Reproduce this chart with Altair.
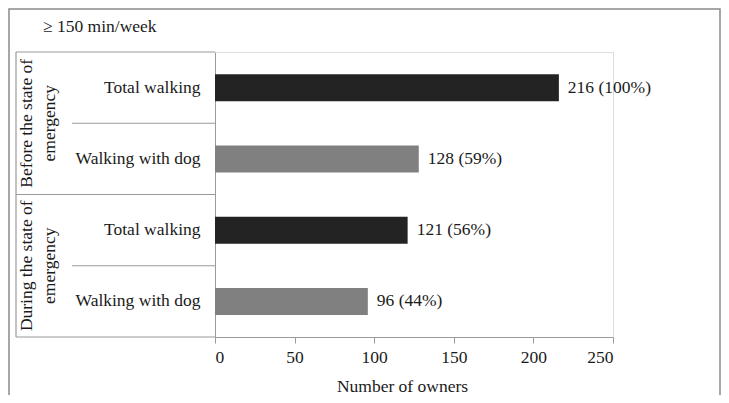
import altair as alt
import pandas as pd

# ---- data ----
groups = ["Before the state of emergency", "Before the state of emergency",
          "During the state of emergency", "During the state of emergency"]
sub_labels = ["Total walking", "Walking with dog", "Total walking", "Walking with dog"]
owners = [216, 128, 121, 96]
percents = [100, 59, 56, 44]
kinds = ["total", "dog", "total", "dog"]
x_ticks = [0, 50, 100, 150, 200, 250]
group_text = [["Before the state of", "emergency"], ["During the state of", "emergency"]]
chart_title = "≥ 150 min/week"

keys = [f"{g.split()[0]}|{s}" for g, s in zip(groups, sub_labels)]
df = pd.DataFrame({
    "key": keys,
    "owners": owners,
    "label": [f"{o} ({p}%)" for o, p in zip(owners, percents)],
    "kind": kinds,
})

W, H = 398, 285
FONT = "Liberation Serif"
FS = 17.5
LINE = "#9a9a9a"
TXT = "#1a1a1a"

yscale = alt.Scale(domain=keys, paddingInner=0, paddingOuter=0)
yaxis = alt.Axis(title=None, ticks=False, labelPadding=15, labelFontSize=FS,
                 labelFont=FONT, labelColor=TXT, domainColor=LINE,
                 labelExpr="split(datum.label, '|')[1]")
xscale = alt.Scale(domain=[0, 250], nice=False)
xaxis = alt.Axis(values=x_ticks, title="Number of owners", grid=False,
                 labelFont=FONT, labelFontSize=FS, labelColor=TXT,
                 titleFont=FONT, titleFontSize=FS, titleFontWeight="normal",
                 titleColor=TXT, domainColor=LINE, tickColor=LINE,
                 tickSize=6, labelPadding=5, titlePadding=12, titleX=187)

base = alt.Chart(df)

bars = base.mark_bar(size=27).encode(
    y=alt.Y("key:N", scale=yscale, axis=yaxis, sort=keys),
    x=alt.X("owners:Q", scale=xscale, axis=xaxis),
    color=alt.Color("kind:N", scale=alt.Scale(domain=["total", "dog"],
                                              range=["#232323", "#808080"]),
                    legend=None),
)

texts = base.mark_text(align="left", baseline="middle", dx=9, fontSize=FS,
                       font=FONT, color=TXT).encode(
    y=alt.Y("key:N", scale=yscale, sort=keys),
    x=alt.X("owners:Q", scale=xscale),
    text="label:N",
)

# table lines on the left side
inner_df = pd.DataFrame({"key": [keys[1], keys[3]]})
outer_df = pd.DataFrame({"key": [keys[0], keys[2]]})
bottom_df = pd.DataFrame({"key": [keys[3]]})

inner = alt.Chart(inner_df).mark_rule(color=LINE, strokeWidth=1.2).encode(
    y=alt.Y("key:N", scale=yscale, bandPosition=0),
    x=alt.value(-143), x2=alt.value(0))
outer = alt.Chart(outer_df).mark_rule(color=LINE, strokeWidth=1.2).encode(
    y=alt.Y("key:N", scale=yscale, bandPosition=0),
    x=alt.value(-199), x2=alt.value(0))
bottom = alt.Chart(bottom_df).mark_rule(color=LINE, strokeWidth=1.2).encode(
    y=alt.Y("key:N", scale=yscale, bandPosition=1),
    x=alt.value(-199), x2=alt.value(0))
left_edge = alt.Chart(bottom_df).mark_rule(color=LINE, strokeWidth=1.2).encode(
    x=alt.value(-199), y=alt.value(0), y2=alt.value(H))

grp_df = pd.DataFrame({"key": [keys[1], keys[3]], "txt": group_text})
grp = alt.Chart(grp_df).mark_text(angle=270, align="center", baseline="middle",
                                  fontSize=FS, font=FONT, lineHeight=23,
                                  color=TXT).encode(
    y=alt.Y("key:N", scale=yscale, bandPosition=0),
    x=alt.value(-188),
    text="txt",
)

title_df = pd.DataFrame({"t": [chart_title]})
title = alt.Chart(title_df).mark_text(align="left", baseline="middle",
                                      fontSize=FS, font=FONT, color=TXT).encode(
    x=alt.value(-172), y=alt.value(-25), text="t:N")

frame = alt.Chart(bottom_df).mark_rect(filled=False, stroke="#8a8a8a",
                                       strokeWidth=1.5).encode(
    x=alt.value(-206), x2=alt.value(505), y=alt.value(-43), y2=alt.value(420))

chart = alt.layer(frame, left_edge, inner, outer, bottom, grp, title, bars, texts).properties(
    width=W, height=H,
    autosize=alt.AutoSizeParams(type="none"),
    padding={"left": 207, "top": 44, "right": 108, "bottom": 58},
).configure_view(stroke=None).configure(background="white")

chart.save("out.html", embed_options={"renderer": "svg", "actions": False})
